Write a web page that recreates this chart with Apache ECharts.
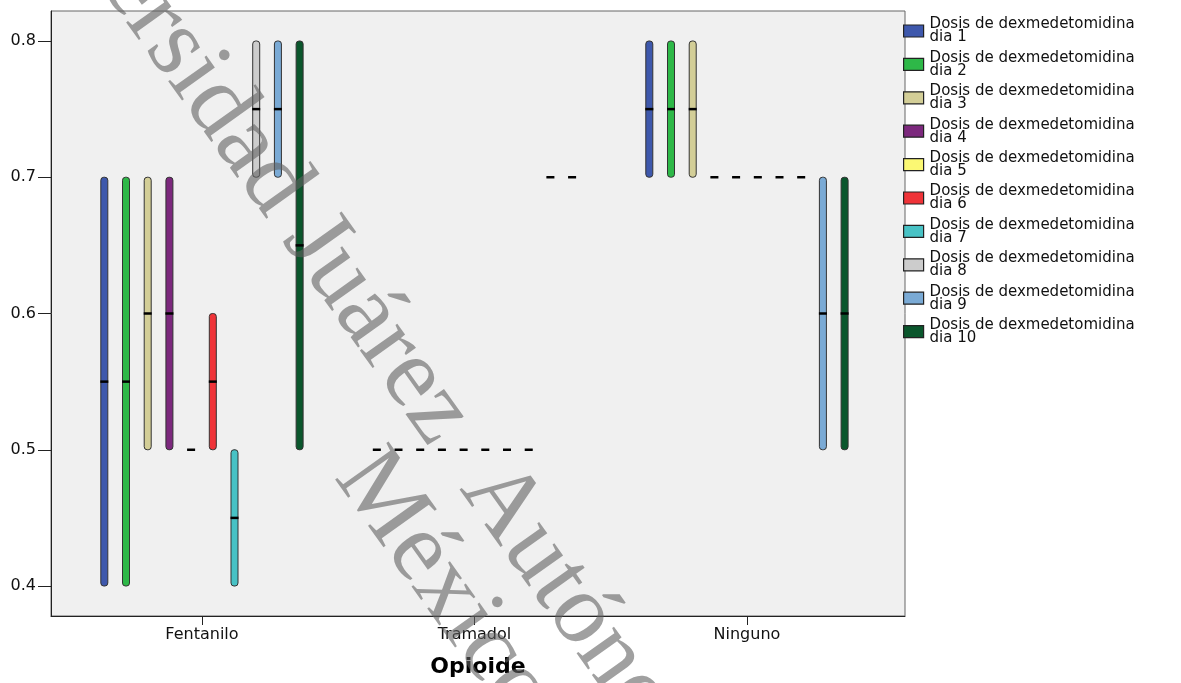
<!DOCTYPE html>
<html>
<head>
<meta charset="utf-8">
<script src="https://cdn.jsdelivr.net/npm/echarts@6/dist/echarts.min.js"></script>
<style>
html,body{margin:0;padding:0;background:#fff;}
#chart{width:1181px;height:683px;}
</style>
</head>
<body>
<div id="chart"></div>
<script>
// ---- DATA ----
const categories = ['Fentanilo', 'Tramadol', 'Ninguno'];
const seriesNames = [
  'Dosis de dexmedetomidina dia 1',
  'Dosis de dexmedetomidina dia 2',
  'Dosis de dexmedetomidina dia 3',
  'Dosis de dexmedetomidina dia 4',
  'Dosis de dexmedetomidina dia 5',
  'Dosis de dexmedetomidina dia 6',
  'Dosis de dexmedetomidina dia 7',
  'Dosis de dexmedetomidina dia 8',
  'Dosis de dexmedetomidina dia 9',
  'Dosis de dexmedetomidina dia 10'
];
// per day: [Fentanilo, Tramadol, Ninguno]
const lowValues = [
  [0.4, 0.5, 0.7],
  [0.4, 0.5, 0.7],
  [0.5, 0.5, 0.7],
  [0.5, 0.5, 0.7],
  [0.5, 0.5, 0.7],
  [0.5, 0.5, 0.7],
  [0.4, 0.5, 0.7],
  [0.7, 0.5, 0.7],
  [0.7, 0.7, 0.5],
  [0.5, 0.7, 0.5]
];
const medianValues = [
  [0.55, 0.5, 0.75],
  [0.55, 0.5, 0.75],
  [0.6, 0.5, 0.75],
  [0.6, 0.5, 0.7],
  [0.5, 0.5, 0.7],
  [0.55, 0.5, 0.7],
  [0.45, 0.5, 0.7],
  [0.75, 0.5, 0.7],
  [0.75, 0.7, 0.6],
  [0.65, 0.7, 0.6]
];
const highValues = [
  [0.7, 0.5, 0.8],
  [0.7, 0.5, 0.8],
  [0.7, 0.5, 0.8],
  [0.7, 0.5, 0.7],
  [0.5, 0.5, 0.7],
  [0.6, 0.5, 0.7],
  [0.5, 0.5, 0.7],
  [0.8, 0.5, 0.7],
  [0.8, 0.7, 0.7],
  [0.8, 0.7, 0.7]
];
const yTicks = [0.4, 0.5, 0.6, 0.7, 0.8];
const colors = ['#3E58AC', '#2EB848', '#D3CE97', '#7C287D', '#FBF873',
                '#EF3338', '#48C2C5', '#CCCCCC', '#7AAAD5', '#0A562C'];
const watermarkParts = ['Universidad Juárez', 'Autónoma de Tabasco.', 'México.'];

// ---- LAYOUT ----
const FONT = '"DejaVu Sans", Verdana, sans-serif';
const slot = 21.7 / 272.5; // spacing between days in category units
const boxW = 7;
const wmAngle = -54.5 * Math.PI / 180;
const wmAnchors = [[4.5, -193.4], [480.4, 473.5], [355, 462]];

function renderItem(params, api) {
  const si = params.seriesIndex;
  const xv = api.value(0) + (si - 4.5) * slot;
  const pLow = api.coord([xv, api.value(1)]);
  const pMed = api.coord([xv, api.value(2)]);
  const pHigh = api.coord([xv, api.value(3)]);
  const h = pLow[1] - pHigh[1];
  return {
    type: 'group',
    children: [
      {
        type: 'rect',
        shape: {x: pHigh[0] - boxW / 2, y: pHigh[1], width: boxW, height: h, r: Math.min(3, h / 2)},
        style: {fill: api.visual('color'), stroke: '#333', lineWidth: 1}
      },
      {
        type: 'line',
        shape: {x1: pMed[0] - boxW / 2 - 0.5, y1: pMed[1], x2: pMed[0] + boxW / 2 + 0.5, y2: pMed[1]},
        style: {stroke: '#000', lineWidth: 2.5}
      }
    ]
  };
}

const series = seriesNames.map((name, i) => ({
  name: name,
  type: 'custom',
  renderItem: renderItem,
  itemStyle: {color: colors[i]},
  encode: {x: 0, y: [1, 2, 3]},
  data: categories.map((c, ci) => [ci, lowValues[i][ci], medianValues[i][ci], highValues[i][ci]])
}));

const chart = echarts.init(document.getElementById('chart'));
chart.setOption({
  animation: false,
  backgroundColor: '#ffffff',
  textStyle: {fontFamily: FONT},
  grid: {
    left: 51, top: 11, width: 854, height: 606,
    show: true, backgroundColor: '#F0F0F0', borderColor: '#666', borderWidth: 1
  },
  legend: {
    orient: 'vertical',
    left: 898, top: 12,
    icon: 'rect',
    itemWidth: 20, itemHeight: 12, itemGap: 5.4,
    itemStyle: {borderColor: '#222', borderWidth: 1.2},
    textStyle: {fontSize: 15, lineHeight: 13, color: '#111', fontFamily: FONT, padding: [0, 0, 0, 1]},
    formatter: n => n.replace(' dia', '\ndia'),
    selectedMode: false,
    data: seriesNames
  },
  xAxis: {
    type: 'value',
    min: -0.554, max: 2.58,
    splitLine: {show: false},
    axisLine: {show: true, onZero: false, lineStyle: {color: '#222', width: 1}},
    axisTick: {show: true, customValues: [0, 1, 2], length: 9, lineStyle: {color: '#222'}},
    axisLabel: {
      customValues: [0, 1, 2], fontSize: 16, color: '#111', margin: 11,
      formatter: v => categories[Math.round(v)] || ''
    },
    name: 'Opioide',
    nameLocation: 'middle',
    nameGap: 40,
    nameTextStyle: {fontSize: 22, fontWeight: 'bold', color: '#000', fontFamily: FONT}
  },
  yAxis: {
    type: 'value',
    min: 0.378, max: 0.822,
    splitLine: {show: false},
    axisLine: {show: true, onZero: false, lineStyle: {color: '#222', width: 1}},
    axisTick: {show: true, customValues: yTicks, length: 13, lineStyle: {color: '#222'}},
    axisLabel: {customValues: yTicks, fontSize: 16, color: '#111', margin: 15, formatter: v => v.toFixed(1)}
  },
  graphic: watermarkParts.map((t, k) => ({
    type: 'text', silent: true, z: 100,
    x: wmAnchors[k][0], y: wmAnchors[k][1], rotation: wmAngle,
    style: {
      text: t,
      font: '100px "Liberation Serif", serif',
      fill: 'rgba(96,96,96,0.6)',
      textAlign: 'left', textVerticalAlign: 'middle'
    }
  })),
  series: series
});
</script>
</body>
</html>
